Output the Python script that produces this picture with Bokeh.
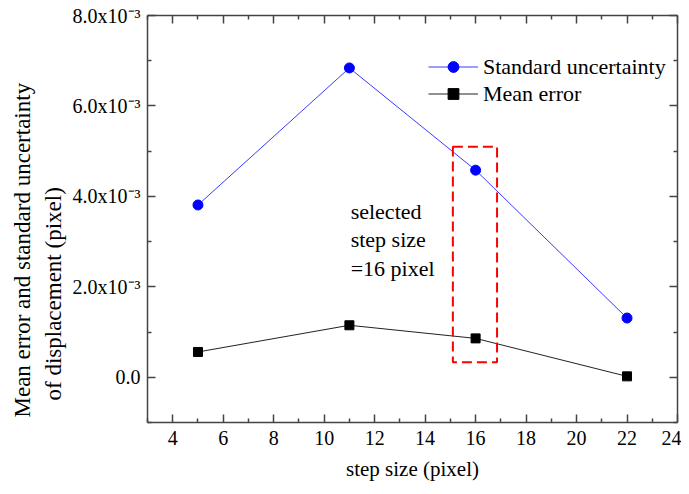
import math
from bokeh.plotting import figure
from bokeh.models import (FixedTicker, LinearAxis, Label, Legend, LegendItem,
                          CustomJSTickFormatter, Range1d, Title)
from bokeh.embed import file_html
from bokeh.resources import INLINE

# ---- data ----
step_size = [5, 11, 16, 22]
std_uncertainty = [3.81e-3, 6.84e-3, 4.58e-3, 1.31e-3]
mean_error = [0.56e-3, 1.15e-3, 0.86e-3, 0.02e-3]

x_major = [4, 6, 8, 10, 12, 14, 16, 18, 20, 22, 24]
x_minor = [3, 5, 7, 9, 11, 13, 15, 17, 19, 21, 23]
y_major = [0.0, 0.002, 0.004, 0.006, 0.008]
y_minor = [-0.001, 0.001, 0.003, 0.005, 0.007]

# highlight box around selected step size
sel_left, sel_right = 15.1, 16.85
sel_bottom, sel_top = 0.33e-3, 5.1e-3

FONT = "Liberation Serif"
AX = "#444444"

p = figure(width=681, height=486, output_backend="svg", toolbar_location=None,
           x_range=Range1d(3, 24), y_range=Range1d(-0.001, 0.008),
           min_border_left=147, min_border_right=4, min_border_top=15,
           min_border_bottom=64)
p.xgrid.visible = False
p.ygrid.visible = False
p.outline_line_color = None
p.background_fill_color = "white"

def style_axis(ax, labels=True):
    ax.axis_line_color = AX
    ax.axis_line_width = 1.5
    ax.major_tick_line_color = AX
    ax.minor_tick_line_color = AX
    ax.major_tick_line_width = 1.5
    ax.minor_tick_line_width = 1.5
    ax.major_tick_in = 8
    ax.major_tick_out = 0
    ax.minor_tick_in = 4
    ax.minor_tick_out = 0
    ax.major_label_text_font = FONT
    ax.major_label_text_color = "black"
    ax.major_label_text_font_size = "20px"
    if not labels:
        ax.formatter = CustomJSTickFormatter(code="return '';")
        ax.major_label_standoff = 0

xt = FixedTicker(ticks=x_major, minor_ticks=x_minor)
yt = FixedTicker(ticks=y_major, minor_ticks=y_minor)
yfmt = CustomJSTickFormatter(code="""
if (Math.abs(tick) < 1e-9) return '0.0';
return (tick*1000).toFixed(1) + 'x10\u207B\u00B3';
""")

p.xaxis.ticker = xt
p.yaxis.ticker = yt
p.yaxis.formatter = yfmt
style_axis(p.xaxis[0])
style_axis(p.yaxis[0])
p.xaxis.major_label_standoff = 8
p.yaxis.major_label_standoff = 7
p.xaxis.axis_label = "step size (pixel)"
p.xaxis.axis_label_text_font = FONT
p.xaxis.axis_label_text_font_style = "normal"
p.xaxis.axis_label_text_font_size = "21px"
p.xaxis.axis_label_text_color = "black"
p.xaxis.axis_label_standoff = 9

top_ax = LinearAxis(ticker=xt)
style_axis(top_ax, labels=False)
p.add_layout(top_ax, "above")
right_ax = LinearAxis(ticker=yt)
style_axis(right_ax, labels=False)
p.add_layout(right_ax, "right")

# y axis title: two lines, each a title in the left panel
def ytitle(text, offset, standoff):
    return Title(text=text, align="left", offset=offset, vertical_align="middle",
                 text_font=FONT, text_font_size="23px", text_font_style="normal",
                 text_color="black", standoff=standoff)

p.add_layout(ytitle("of displacement (pixel)", 22, 6), "left")
p.add_layout(ytitle("Mean error and standard uncertainty", 5, 2), "left")

# series
l1 = p.line(step_size, std_uncertainty, line_color="#3b3bff", line_width=1)
s1 = p.scatter(step_size, std_uncertainty, marker="circle", size=10,
               fill_color="#0000ff", line_color="#0000ff")
l2 = p.line(step_size, mean_error, line_color="#222222", line_width=1)
s2 = p.scatter(step_size, mean_error, marker="square", size=9,
               fill_color="black", line_color="black")

# red dashed selection box
p.quad(left=[sel_left], right=[sel_right], bottom=[sel_bottom], top=[sel_top],
       fill_alpha=0, line_color="red", line_width=2, line_dash="10 5")

ann = Label(x=11.05, y=3.94e-3, text="selected\nstep size\n=16 pixel",
            text_font=FONT, text_font_size="22px", text_color="black",
            text_align="left", text_baseline="top", text_line_height=1.13)
p.add_layout(ann)

legend = Legend(items=[LegendItem(label="Standard uncertainty", renderers=[l1, s1]),
                       LegendItem(label="Mean error", renderers=[l2, s2])],
                location=(281, 315), border_line_color=None,
                background_fill_alpha=0, padding=0, margin=0, spacing=0,
                glyph_width=50, glyph_height=27, label_height=27,
                label_standoff=5, label_text_font=FONT,
                label_text_font_size="22px", label_text_color="black")
p.add_layout(legend)

open("out.html", "w").write(file_html(p, INLINE))
